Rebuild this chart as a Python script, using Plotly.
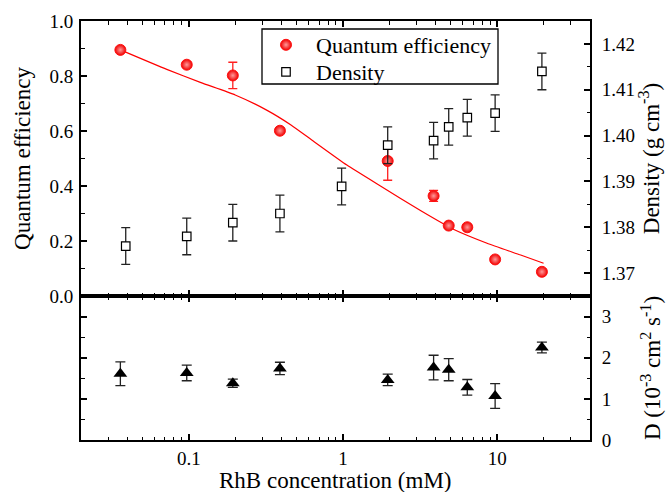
import plotly.graph_objects as go

# RhB concentration (mM)
conc_qe = [0.036, 0.097, 0.193, 0.39, 1.95, 3.87, 4.85, 6.4, 9.7, 19.5]
qe = [0.895, 0.841, 0.802, 0.601, 0.491, 0.364, 0.256, 0.250, 0.133, 0.088]
qe_err = [0.008, 0.01, 0.048, 0.01, 0.07, 0.02, 0.01, 0.01, 0.01, 0.01]

conc_dens = [0.039, 0.097, 0.193, 0.39, 0.98, 1.95, 3.87, 4.85, 6.4, 9.7, 19.5]
density = [1.3759, 1.3780, 1.3810, 1.3830, 1.3889, 1.3979, 1.3989, 1.4019, 1.4039, 1.4049, 1.4140]
dens_err = [0.004] * 11

conc_d = [0.036, 0.097, 0.193, 0.39, 1.95, 3.87, 4.85, 6.4, 9.7, 19.5]
diff = [1.61, 1.63, 1.38, 1.74, 1.46, 1.76, 1.71, 1.28, 1.07, 2.25]
diff_err = [0.29, 0.19, 0.1, 0.15, 0.14, 0.3, 0.27, 0.19, 0.3, 0.13]

# fitted quantum-efficiency curve
fit_c = [0.036, 0.072, 0.12, 0.2, 0.32, 0.46, 0.65, 1.06, 1.75, 3.2, 5.2, 8.6, 14.2, 20]
fit_qe = [0.895, 0.824, 0.776, 0.731, 0.676, 0.622, 0.561, 0.476, 0.40, 0.31, 0.243, 0.192, 0.149, 0.119]

FONT = "Liberation Serif"
split = 144 / 419

# plot area in pixels: x 81..590, y 21..440
PX_L, PX_R, PX_T, PX_B = 81, 590, 21, 440
W, H = PX_R - PX_L, PX_B - PX_T


def px_x(x):
    return (x - PX_L) / W


def px_y(y):
    return (PX_B - y) / H


fig = go.Figure()

fig.add_trace(go.Scatter(
    x=fit_c, y=fit_qe, mode="lines",
    line=dict(color="red", width=1.2, shape="spline", smoothing=0.5),
    showlegend=False, xaxis="x", yaxis="y"))

fig.add_trace(go.Scatter(
    x=conc_qe, y=qe, mode="markers", name="Quantum efficiency", legend="legend",
    marker=dict(symbol="circle", size=11, color="#f00000",
                gradient=dict(type="radial", color="#ff9a9a"),
                line=dict(color="#ff1010", width=1)),
    error_y=dict(type="data", array=qe_err, color="#ff2020", thickness=1.3, width=4.5),
    xaxis="x", yaxis="y"))

fig.add_trace(go.Scatter(
    x=conc_dens, y=density, mode="markers", name="Density", legend="legend2",
    marker=dict(symbol="square", size=8.5, color="white", line=dict(color="black", width=1.2)),
    error_y=dict(type="data", array=dens_err, color="#222222", thickness=1.3, width=4.5),
    xaxis="x", yaxis="y2"))

fig.add_trace(go.Scatter(
    x=conc_d, y=diff, mode="markers", showlegend=False,
    marker=dict(symbol="triangle-up", size=12, color="black"),
    error_y=dict(type="data", array=diff_err, color="#222222", thickness=1.3, width=5),
    xaxis="x2", yaxis="y3"))

tick_font = dict(family=FONT, size=19, color="black")
title_font = dict(family=FONT, size=23, color="black")
legend_font = dict(family=FONT, size=22, color="black")
minor_x = [v * m for m in (0.01, 0.1, 1, 10) for v in range(2, 10)]
minor_x = [v for v in minor_x if 0.02 <= v <= 40]

common_x = dict(type="log", range=[-1.699, 1.602], showline=True, linewidth=2,
                linecolor="black", ticks="inside", ticklen=6, tickwidth=1.5,
                tickcolor="black", tickvals=[0.1, 1, 10], ticktext=["0.1", "1", "10"],
                mirror="ticks", showgrid=False, zeroline=False, automargin=False,
                minor=dict(tickvals=minor_x, ticks="inside", ticklen=3.5,
                           tickwidth=1.2, tickcolor="black", showgrid=False))

common_y = dict(showline=True, linewidth=2, linecolor="black", ticks="inside",
                ticklen=6, tickwidth=1.5, tickcolor="black", showgrid=False,
                zeroline=False, tickfont=tick_font, automargin=False)

legend_common = dict(xanchor="left", yanchor="middle", borderwidth=0,
                     bgcolor="rgba(0,0,0,0)", font=legend_font, itemwidth=50)

fig.update_layout(
    width=668, height=492,
    template="none",
    margin=dict(l=PX_L, r=668 - PX_R, t=PX_T, b=492 - PX_B),
    paper_bgcolor="white", plot_bgcolor="white",
    font=tick_font,
    xaxis=dict(**common_x, anchor="y", showticklabels=False),
    xaxis2=dict(**common_x, anchor="y3", matches="x", showticklabels=True,
                tickfont=tick_font, ticklabelstandoff=0),
    yaxis=dict(**common_y, domain=[split, 1], range=[0, 1],
               tickvals=[0, 0.2, 0.4, 0.6, 0.8, 1.0], tickformat=".1f",
               ticklabelstandoff=2,
               minor=dict(dtick=0.1, ticks="inside", ticklen=3.5, tickwidth=1.2,
                          tickcolor="black", showgrid=False),
               title=dict(text="Quantum efficiency", font=title_font, standoff=12)),
    yaxis2=dict(**common_y, overlaying="y", side="right", anchor="x", range=[1.365, 1.425],
                tickvals=[1.37, 1.38, 1.39, 1.40, 1.41, 1.42], tickformat=".2f",
                ticklabelstandoff=6,
                minor=dict(dtick=0.005, ticks="inside", ticklen=3.5, tickwidth=1.2,
                           tickcolor="black", showgrid=False),
                title=dict(text="Density (g cm<sup>-3</sup>)", font=title_font, standoff=8)),
    yaxis3=dict(**common_y, domain=[0, split], range=[0, 3.5], side="right", anchor="x2",
                tickvals=[0, 1, 2, 3], mirror="ticks", ticklabelstandoff=6,
                minor=dict(dtick=0.5, ticks="inside", ticklen=3.5, tickwidth=1.2,
                           tickcolor="black", showgrid=False),
                title=dict(text="D (10<sup>-3</sup> cm<sup>2</sup> s<sup>-1</sup>)",
                           font=title_font, standoff=34)),
    legend=dict(**legend_common, x=px_x(256), y=px_y(45)),
    legend2=dict(**legend_common, x=px_x(256), y=px_y(72)),
    shapes=[dict(type="rect", xref="paper", yref="paper", layer="above",
                 x0=px_x(262), x1=px_x(498), y0=px_y(84), y1=px_y(29),
                 line=dict(color="black", width=1.3), fillcolor="white")],
    annotations=[dict(text="RhB concentration (mM)", xref="paper", yref="paper",
                      x=0.5, y=px_y(481), xanchor="center", yanchor="middle",
                      showarrow=False, font=title_font)],
)

fig.write_html("out.html")
